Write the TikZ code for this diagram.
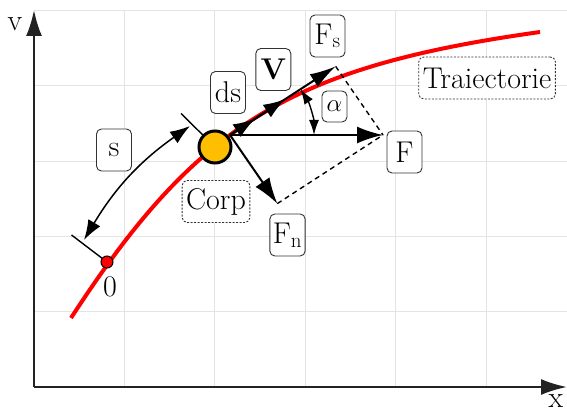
\documentclass[tikz,border=0pt]{standalone}
\usetikzlibrary{arrows.meta}
\begin{document}
\begin{tikzpicture}[x=1pt,y=1pt,font=\fontsize{30}{34}\selectfont,
  lbl/.style={draw=boxgrey,fill=white,rounded corners=5pt,line width=0.9pt,minimum width=35pt,minimum height=42pt,inner sep=3pt},
  lblsmall/.style={lbl,minimum width=25pt,minimum height=31pt,inner sep=2pt},
  dashlbl/.style={lbl,dash pattern=on 2pt off 1.5pt,inner sep=4pt},
  vec/.style={line width=2pt,-{Latex[length=22pt,width=15pt]}},
  tickline/.style={line width=1.4pt},
  arcarrow/.style={line width=1.5pt,{Latex[length=20pt,width=14pt]}-{Latex[length=20pt,width=14pt]}}]
\definecolor{pathred}{HTML}{FF0000}
\definecolor{bodyorange}{HTML}{FFBF00}
\definecolor{gridgrey}{HTML}{E4E4E4}
\definecolor{boxgrey}{HTML}{333333}
\definecolor{axisgrey}{HTML}{222222}
\useasboundingbox (0,0) rectangle (567,415);
\foreach \k in {1,...,5} {
  \draw[gridgrey,line width=0.8pt] (34+90.4*\k,28) -- (34+90.4*\k,405);
  \draw[gridgrey,line width=0.8pt] (34,28+75.33*\k) -- (567,28+75.33*\k);
}
\coordinate (orig) at (34,28);
\coordinate (ytop) at (34,405);
\coordinate (xend) at (567,28);
\draw[axisgrey,line width=2.2pt,-{Latex[length=26pt,width=16pt]}] (orig) -- (ytop);
\draw[axisgrey,line width=2.2pt,-{Latex[length=26pt,width=16pt]}] (orig) -- (xend);
\node[inner sep=0pt] (ylabel) at (15,391) {v};
\node[inner sep=0pt] (xlabel) at (556,14) {x};
\draw[pathred,line width=4pt] (71,97) .. controls (197,291) and (290.5,348) .. (540,383);
\coordinate (p0) at (107,153);
\coordinate (zerotick) at (71.5,180);
\coordinate (pc) at (215,268);
\coordinate (corptick) at (181,301.5);
\draw[tickline] (p0) -- (zerotick);
\draw[tickline] (pc) -- (corptick);
\node[circle,fill=pathred,draw=black,line width=1pt,minimum size=12pt,inner sep=0pt] (zeropt) at (p0) {};
\node[inner sep=0pt] (zerolabel) at (110,128) {0};
\coordinate (sA) at (84,175);
\coordinate (sB) at (190,289);
\draw[arcarrow] (sA) to[bend left=12] (sB);
\node[lbl] (lbls) at (114,265) {s};
\node[circle,fill=bodyorange,draw=black,line width=3pt,minimum size=32pt,inner sep=0pt] (body) at (pc) {};
\coordinate (O) at (230,280);
\coordinate (tipds) at ([shift={(33:30)}]O);
\coordinate (tipv) at ([shift={(33:66)}]O);
\coordinate (tipfs) at ([shift={(33:126)}]O);
\coordinate (tipf) at (383,280);
\coordinate (tipfn) at (277.3,211.4);
\draw[black,line width=1.4pt,dash pattern=on 5pt off 4pt] (tipfs) -- (tipf);
\draw[black,line width=1.4pt,dash pattern=on 5pt off 4pt] (tipfn) -- (tipf);
\draw[vec,-{Latex[length=26pt,width=15pt]}] (O) -- (tipfs);
\draw[vec] (O) -- (tipv);
\draw[vec] (O) -- (tipds);
\draw[vec,-{Latex[length=26pt,width=17pt]}] (O) -- (tipf);
\draw[vec,-{Latex[length=26pt,width=17pt]}] (O) -- (tipfn);
\draw[line width=1.4pt,{Latex[length=15pt,width=10pt]}-{Latex[length=15pt,width=10pt]}] ([shift={(33:84)}]O) arc[start angle=33,end angle=0,radius=84];
\node[lbl] (lblds) at (228,322.5) {ds};
\node[lbl] (lblv) at (273.3,345.5) {\textbf{V}};
\node[lbl] (lblfs) at (327.5,379) {F\textsubscript{s}};
\node[lblsmall] (lblalpha) at (334.5,308.5) {$\alpha$};
\node[lbl] (lblf) at (404.5,263) {F};
\node[lbl] (lblfn) at (287.5,180) {F\textsubscript{n}};
\node[dashlbl] (lblcorp) at (216,213.5) {Corp};
\node[dashlbl,anchor=west] (lbltraj) at (418.3,337) {Traiectorie};
\end{tikzpicture}
\end{document}
